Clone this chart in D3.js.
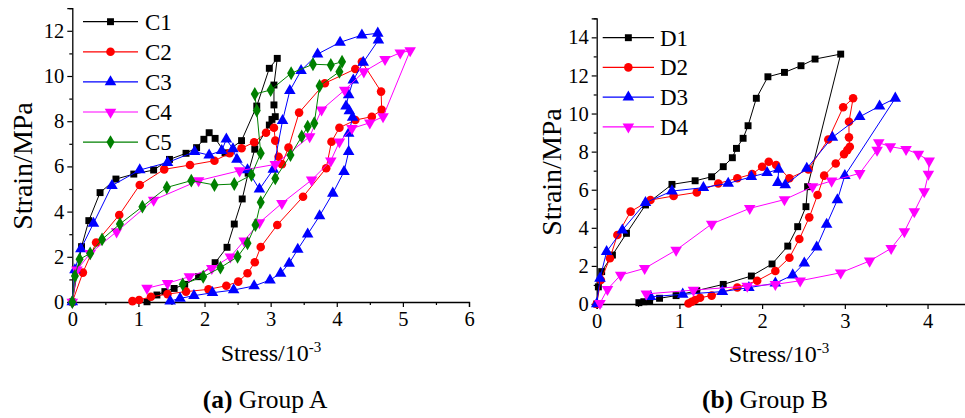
<!DOCTYPE html>
<html><head><meta charset="utf-8">
<script src="https://cdn.jsdelivr.net/npm/d3@7"></script>
<style>body{margin:0;background:#fff}svg{display:block}text{font-family:"Liberation Serif","Times New Roman",serif;fill:#000}</style>
</head><body><svg id="c" width="965" height="418"></svg>
<script>
// ---- data (stress x 10^-3, strain MPa) ----
const C1 = [[0,0],[0.14,2.45],[0.25,3.6],[0.42,4.84],[0.66,5.44],[0.93,5.66],[1.23,5.84],[1.47,6.31],[1.72,6.58],[1.88,6.83],[1.99,7.2],[2.07,7.49],[2.16,7.24],[2.31,6.6],[2.56,7.14],[2.79,8.67],[2.98,10.34],[3.10,10.78],[3.05,9.6],[3.05,8.72],[3.07,8.2],[3.02,8.08],[2.98,7.83],[2.76,6.76],[2.66,5.7],[2.57,4.56],[2.45,3.45],[2.34,2.42],[2.16,1.74],[1.91,1.12],[1.70,0.78],[1.54,0.6],[1.40,0.46],[1.28,0.31],[1.13,0.01]];
const C2 = [[0,0],[0.16,1.3],[0.36,2.63],[0.71,3.85],[1.02,5.18],[1.39,5.87],[1.78,6.06],[2.15,6.25],[2.38,6.58],[2.56,6.8],[2.75,7.07],[2.93,7.49],[3.05,7.71],[3.07,7.14],[3.12,6.43],[3.17,6.1],[3.27,6.83],[3.43,8.38],[3.82,9.68],[4.28,10.31],[4.38,10.63],[4.67,9.31],[4.68,8.5],[4.53,8.2],[4.28,8.05],[4.04,7.71],[3.92,7.09],[3.84,5.92],[3.49,4.66],[3.10,3.41],[2.85,2.43],[2.76,1.76],[2.65,1.27],[2.51,0.9],[2.33,0.72],[2.06,0.56],[1.72,0.46],[1.44,0.35],[1.19,0.23],[1.01,0.09],[0.91,0.04]];
const C3 = [[0,0],[0.04,1.42],[0.13,2.35],[0.32,3.48],[0.6,5.15],[1.02,5.84],[1.44,6.17],[1.85,6.65],[2.07,6.5],[2.26,6.7],[2.33,7.2],[2.43,6.77],[2.49,6.31],[2.65,5.84],[2.83,4.99],[3.04,5.87],[3.18,8.02],[3.29,9.35],[3.46,10.24],[3.71,10.97],[4.05,11.49],[4.38,11.81],[4.62,11.89],[4.63,11.59],[4.4,10.6],[4.25,9.82],[4.18,9.16],[4.14,8.67],[4.19,8.45],[4.24,8.17],[4.18,7.46],[4.18,6.65],[4.11,5.77],[3.94,4.81],[3.74,3.81],[3.56,3.0],[3.41,2.33],[3.28,1.71],[3.15,1.27],[2.99,0.97],[2.75,0.71],[2.44,0.53],[2.12,0.41],[1.84,0.28],[1.63,0.16],[1.48,0.04]];
const C4 = [[0,0],[0.07,1.42],[0.27,2.15],[0.67,3.11],[1.23,4.51],[1.91,5.37],[2.53,5.81],[3.07,6.09],[3.59,7.32],[3.77,8.5],[4.12,9.38],[4.41,10.19],[4.73,10.74],[4.96,11.03],[5.11,11.12],[4.7,8.2],[4.5,7.93],[4.23,7.68],[4.04,7.09],[3.91,6.25],[3.62,5.4],[3.17,4.37],[2.83,3.51],[2.6,2.71],[2.39,2.0],[2.11,1.49],[1.77,1.12],[1.44,0.83],[1.13,0.61]];
const C5 = [[0,0],[0.04,1.15],[0.11,1.89],[0.27,2.15],[0.45,2.77],[0.72,3.45],[1.06,4.22],[1.43,5.07],[1.80,5.37],[2.15,5.18],[2.45,5.22],[2.71,5.62],[2.85,6.58],[2.79,8.47],[2.76,9.2],[3.0,9.38],[3.31,10.12],[3.64,10.52],[3.91,10.49],[4.08,10.63],[4.04,10.19],[3.74,9.56],[3.66,7.91],[3.56,7.76],[3.47,7.32],[3.30,6.5],[3.07,5.47],[2.85,4.41],[2.77,3.41],[2.65,2.6],[2.5,2.0],[2.24,1.52],[1.98,1.12],[1.67,0.78]];
const D1 = [[0,0],[0.02,0.9],[0.06,1.7],[0.19,2.57],[0.36,3.71],[0.59,5.2],[0.91,6.28],[1.19,6.47],[1.39,6.68],[1.53,7.21],[1.64,7.68],[1.69,8.17],[1.77,8.7],[1.83,9.36],[1.93,10.8],[2.07,11.93],[2.27,12.16],[2.47,12.51],[2.64,12.86],[2.95,13.12],[2.55,6.16],[2.53,5.11],[2.43,4.06],[2.31,3.04],[2.12,2.1],[1.87,1.47],[1.53,1.03],[1.21,0.7],[0.96,0.44],[0.76,0.3],[0.64,0.17],[0.57,0.12],[0.51,0.07]];
const D2 = [[0,0],[0.05,1.26],[0.16,2.4],[0.25,3.62],[0.41,4.85],[0.65,5.46],[0.93,5.67],[1.21,5.86],[1.47,6.33],[1.70,6.6],[1.88,6.82],[2.0,7.21],[2.08,7.47],[2.17,7.3],[2.33,6.6],[2.56,7.07],[2.8,8.64],[2.98,10.33],[3.1,10.8],[3.05,9.57],[3.05,8.75],[3.06,8.26],[3.03,8.08],[2.99,7.87],[2.89,7.38],[2.75,6.74],[2.67,5.72],[2.57,4.55],[2.45,3.41],[2.33,2.43],[2.16,1.73],[1.94,1.22],[1.70,0.87],[1.39,0.44],[1.25,0.33],[1.19,0.21],[1.15,0.12],[1.11,0.03]];
const D3 = [[0,0],[0.04,1.35],[0.12,2.75],[0.31,3.88],[0.59,5.32],[0.91,5.93],[1.29,6.11],[1.59,6.33],[1.87,6.68],[2.06,6.89],[2.2,7.07],[2.19,6.37],[2.28,6.25],[2.54,7.12],[2.85,8.75],[3.18,9.83],[3.42,10.39],[3.61,10.8],[3.0,6.74],[2.91,5.46],[2.78,4.18],[2.66,2.98],[2.51,2.14],[2.37,1.52],[2.16,1.09],[1.84,0.86],[1.52,0.65],[1.04,0.51],[0.65,0.38]];
const D4 = [[0.04,0.04],[0.13,0.77],[0.29,1.52],[0.58,1.87],[0.96,2.83],[1.39,4.2],[1.85,5.02],[2.27,5.48],[2.61,6.16],[2.84,6.46],[3.18,6.86],[3.39,8.08],[3.41,8.47],[3.55,8.26],[3.74,8.12],[3.89,7.87],[4.02,7.51],[4.01,6.82],[3.96,5.9],[3.84,4.85],[3.72,3.8],[3.56,2.92],[3.3,2.26],[2.95,1.64],[2.46,1.22],[2.16,1.03],[1.82,0.94],[1.17,0.73],[0.6,0.53]];
const namesA = ["C1","C2","C3","C4","C5"];
const namesB = ["D1","D2","D3","D4"];
const xTicksA = [0,1,2,3,4,5,6];
const yTicksA = [0,2,4,6,8,10,12];
const xTicksB = [0,1,2,3,4];
const yTicksB = [0,2,4,6,8,10,12,14];

const colors = ["#000000","#ff0000","#0000ff","#ff00ff","#008000"];
const shapes = ["square","circle","triangle","tridown","diamond"];

const svg = d3.select("#c");

function marker(g, shape, color, x, y){
  let sym, size=56, rot=0;
  if(shape==="square"){sym=d3.symbolSquare;size=48;}
  else if(shape==="circle"){sym=d3.symbolCircle;size=58;}
  else if(shape==="triangle"){sym=d3.symbolTriangle;size=58;}
  else if(shape==="tridown"){sym=d3.symbolTriangle;size=58;rot=180;}
  else {sym=d3.symbolDiamond;size=56;}
  g.append("path").attr("d",d3.symbol(sym,size)())
   .attr("transform",`translate(${x},${y}) rotate(${rot})`)
   .attr("fill",color).attr("stroke","none");
}

function panel(cfg){
  const x = d3.scaleLinear().domain(cfg.xd).range(cfg.xr);
  const y = d3.scaleLinear().domain(cfg.yd).range(cfg.yr);
  const g = svg.append("g");
  // axes
  const xAxis = d3.axisBottom(x).tickValues(cfg.xt).tickSize(5).tickPadding(4).tickFormat(d3.format("d"));
  g.append("g").attr("transform",`translate(0,${cfg.yr[0]})`).call(xAxis);
  const xMinor = d3.axisBottom(x).tickValues(cfg.xt.map(v=>v+0.5).filter(v=>v<=cfg.xd[1])).tickSize(3).tickFormat("");
  const gxm = g.append("g").attr("transform",`translate(0,${cfg.yr[0]})`).call(xMinor);
  gxm.select(".domain").remove();
  const yAxis = d3.axisLeft(y).tickValues(cfg.yt).tickSize(5).tickPadding(3).tickFormat(d3.format("d"));
  g.append("g").attr("transform",`translate(${cfg.xr[0]},0)`).call(yAxis);
  const yMinor = d3.axisLeft(y).tickValues(cfg.yt.map(v=>v+1).filter(v=>v<=cfg.yd[1])).tickSize(3).tickFormat("");
  const gym = g.append("g").attr("transform",`translate(${cfg.xr[0]},0)`).call(yMinor);
  gym.select(".domain").remove();
  g.selectAll(".domain").attr("stroke","#000").attr("stroke-width",1.3);
  g.selectAll(".tick line").attr("stroke","#000").attr("stroke-width",1.2);
  g.selectAll(".tick text").attr("font-family",null).style("font-family","'Liberation Serif',serif").style("font-size","20.5px").attr("fill","#000");
  // series
  const line = d3.line().x(d=>x(d[0])).y(d=>y(d[1]));
  cfg.series.forEach((s,i)=>{
    g.append("path").datum(s).attr("d",line).attr("fill","none").attr("stroke",colors[i]).attr("stroke-width",1);
    const mg = g.append("g");
    s.forEach(d=>marker(mg,shapes[i],colors[i],x(d[0]),y(d[1])));
  });
  // legend
  cfg.names.forEach((n,i)=>{
    const ly = cfg.leg.y0 + i*cfg.leg.dy;
    g.append("line").attr("x1",cfg.leg.x1).attr("x2",cfg.leg.x2).attr("y1",ly).attr("y2",ly).attr("stroke",colors[i]).attr("stroke-width",1.2);
    marker(g,shapes[i],colors[i],(cfg.leg.x1+cfg.leg.x2)/2,ly);
    g.append("text").attr("x",cfg.leg.tx).attr("y",ly+8).style("font-size","23px").text(n);
  });
  // axis titles
  const xt = g.append("text").attr("x",cfg.xTitle[0]).attr("y",cfg.xTitle[1]).attr("text-anchor","middle").style("font-size","24px");
  xt.append("tspan").text("Stress/10");
  xt.append("tspan").attr("dy",-9).style("font-size","15px").text("-3");
  g.append("text").attr("transform",`translate(${cfg.yTitle[0]},${cfg.yTitle[1]}) rotate(-90)`).attr("text-anchor","middle").style("font-size","28px").text("Strain/MPa");
  const cap = g.append("text").attr("x",cfg.cap[0]).attr("y",cfg.cap[1]).attr("text-anchor","middle").style("font-size","25.5px");
  cap.append("tspan").style("font-weight","bold").text(cfg.capA);
  cap.append("tspan").text(cfg.capB);
}

panel({xd:[0,6],xr:[72.3,469],yd:[0,13],yr:[302,8.2],xt:xTicksA,yt:yTicksA,
  series:[C1,C2,C3,C4,C5],names:namesA,
  leg:{x1:83,x2:138,y0:21.7,dy:30.1,tx:145},
  xTitle:[271,361],yTitle:[32,166],cap:[265,408],capA:"(a)",capB:" Group A"});
panel({xd:[0,4.5],xr:[596.7,968.9],yd:[0,15],yr:[304,18.3],xt:xTicksB,yt:yTicksB,
  series:[D1,D2,D3,D4],names:namesB,
  leg:{x1:602.7,x2:654,y0:37.7,dy:29.7,tx:660},
  xTitle:[779,362],yTitle:[561,172],cap:[765,408],capA:"(b)",capB:" Group B"});
</script></body></html>
